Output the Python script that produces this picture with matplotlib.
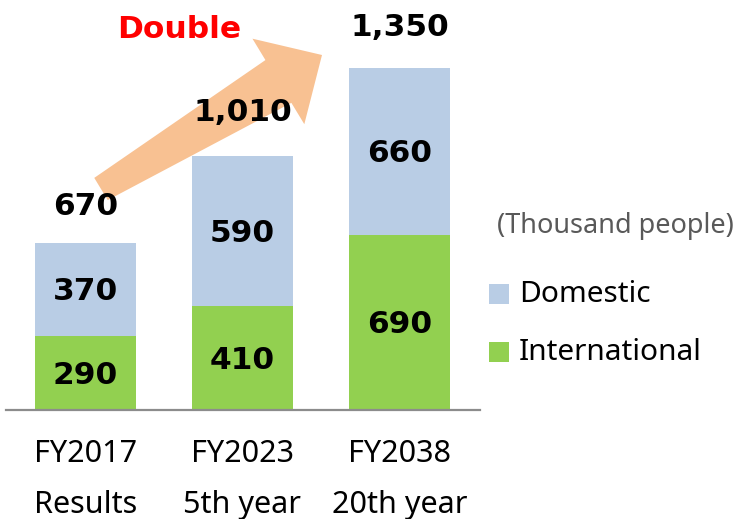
import numpy as np
import matplotlib
matplotlib.use("Agg")
import matplotlib.pyplot as plt
import matplotlib.transforms as mtransforms
from matplotlib.patches import Polygon, Rectangle

# data (thousand people)
years = ["FY2017", "FY2023", "FY2038"]
stages = ["Results", "5th year", "20th year"]
international = [290, 410, 690]
domestic = [370, 590, 660]
totals = [670, 1010, 1350]

BLUE = "#B9CDE5"
GREEN = "#92D050"
PEACH = "#F8C192"
W, H = 738, 519

plt.rcParams["font.family"] = ["Noto Sans", "DejaVu Sans"]

fig = plt.figure(figsize=(W / 100, H / 100), dpi=100)
ax = fig.add_axes([6 / W, 109 / H, 474 / W, 1 - 109 / H])
ax.patch.set_visible(False)

x = np.arange(len(years))
ax.bar(x, international, width=0.645, color=GREEN, zorder=2)
ax.bar(x, domestic, width=0.645, bottom=international, color=BLUE, zorder=2)

bold = dict(family="DejaVu Sans", fontweight="bold", fontsize=22.5, color="black",
            ha="center", va="center", zorder=5, textcoords="offset points")
for i in range(len(x)):
    ax.annotate(f"{international[i]:,}", (x[i], international[i] / 2),
                xytext=(0, -1.5), **bold)
    ax.annotate(f"{domestic[i]:,}", (x[i], international[i] + domestic[i] / 2),
                xytext=(0, -1.5), **bold)

tot_off = [24.5, 30, 29]  # points above bar top
for i in range(len(x)):
    ax.annotate(f"{totals[i]:,}", (x[i], totals[i]), xytext=(0, tot_off[i]), **bold)

ax.set_xlim(-0.506, 2.513)
ax.set_ylim(0, 1617)
ax.set_xticks([])
ax.set_yticks([])
for s in ["top", "right", "left"]:
    ax.spines[s].set_visible(False)
ax.spines["bottom"].set_color("#8C8C8C")
ax.spines["bottom"].set_linewidth(1.6)

# category labels (two rows)
tr = mtransforms.blended_transform_factory(ax.transData, fig.transFigure)
for i in range(len(x)):
    ax.text(x[i], 1 - 454 / H, years[i], transform=tr, ha="center", va="center",
            fontsize=22, color="black", clip_on=False)
    ax.text(x[i], 1 - 505 / H, stages[i], transform=tr, ha="center", va="center",
            fontsize=22, color="black", clip_on=False)

# growth arrow, tapered shaft (pixel geometry -> figure fraction)
tail = np.array([101.0, 189.0])
tip = np.array([322.0, 55.0])
u = (tip - tail) / np.linalg.norm(tip - tail)
n = np.array([-u[1], u[0]])
tw, bw, hw, hl = 13.0, 25.0, 50.0, 51.0
base = tip - hl * u
pts = [tail + tw * n, base + bw * n, base + hw * n, tip,
       base - hw * n, base - bw * n, tail - tw * n]
pts = [(p[0] / W, 1 - p[1] / H) for p in pts]
ax.add_patch(Polygon(pts, closed=True, transform=fig.transFigure, facecolor=PEACH,
                     edgecolor="none", zorder=1, clip_on=False))

fig.text(179 / W, 1 - 29 / H, "Double", family="DejaVu Sans", fontweight="bold",
         fontsize=22.5, color="#FF0000", ha="center", va="center")

# unit and legend
fig.text(615 / W, 1 - 226 / H, "(Thousand people)", fontsize=19.5, color="#595959",
         ha="center", va="center")
for lab, col, cy in [("Domestic", BLUE, 294), ("International", GREEN, 352)]:
    fig.add_artist(Rectangle((489 / W, 1 - (cy + 10) / H), 20 / W, 20 / H,
                             transform=fig.transFigure, facecolor=col, edgecolor="none"))
    fig.text(519 / W, 1 - cy / H, lab, fontsize=21.5, color="black", ha="left", va="center")

fig.savefig("out.png", dpi=100, facecolor="white")
